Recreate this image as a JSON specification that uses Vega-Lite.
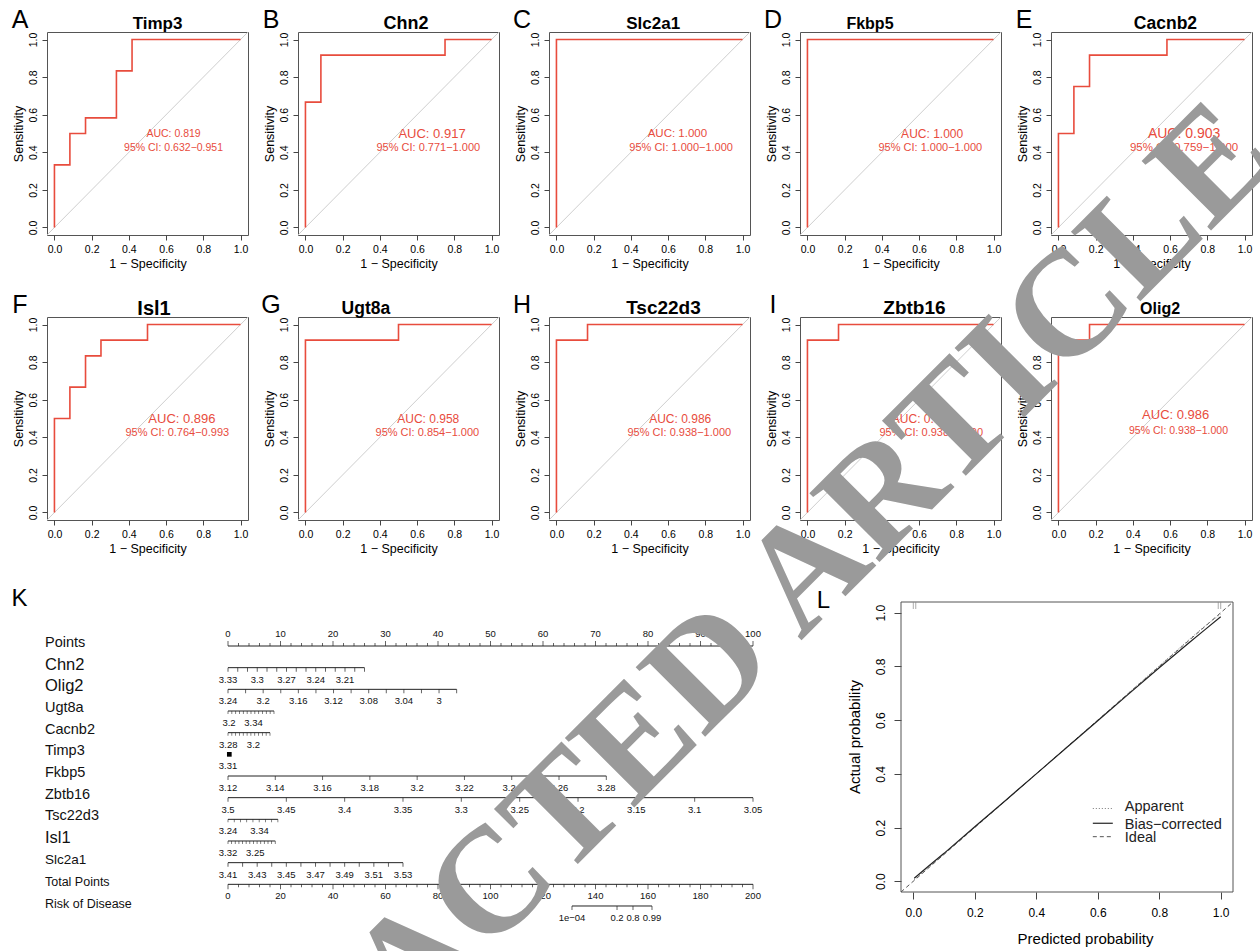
{
  "$schema": "https://vega.github.io/schema/vega-lite/v6.json",
  "background": "white",
  "padding": {"left": 11, "top": 7, "right": 0, "bottom": 0},
  "columns": 5,
  "align": "each",
  "bounds": "flush",
  "spacing": {"row": 82, "column": 50},
  "config": {
    "font": "Liberation Sans",
    "view": {"stroke": "#555", "strokeWidth": 1},
    "axis": {"grid": false, "domain": false, "labelFlush": false, "labelOverlap": false, "tickColor": "#444", "labelColor": "#000", "titleColor": "#000", "titleFontWeight": "normal"},
    "axisX": {"tickSize": 5, "labelFontSize": 10.5, "labelPadding": 4.5, "titleFontSize": 12.5, "titlePadding": 2},
    "axisY": {"tickSize": 5, "labelFontSize": 10.5, "labelPadding": 4, "labelAngle": 270, "labelAlign": "center", "labelBaseline": "bottom", "titleFontSize": 12.5, "titlePadding": 2.5}
  },
  "datasets": {
    "roc": [
      {"gene":"Timp3","ord":0,"fpr":0,"tpr":0},{"gene":"Timp3","ord":1,"fpr":0,"tpr":0.333},{"gene":"Timp3","ord":2,"fpr":0.083,"tpr":0.333},{"gene":"Timp3","ord":3,"fpr":0.083,"tpr":0.5},{"gene":"Timp3","ord":4,"fpr":0.167,"tpr":0.5},{"gene":"Timp3","ord":5,"fpr":0.167,"tpr":0.583},{"gene":"Timp3","ord":6,"fpr":0.333,"tpr":0.583},{"gene":"Timp3","ord":7,"fpr":0.333,"tpr":0.833},{"gene":"Timp3","ord":8,"fpr":0.417,"tpr":0.833},{"gene":"Timp3","ord":9,"fpr":0.417,"tpr":1},{"gene":"Timp3","ord":10,"fpr":1,"tpr":1},
      {"gene":"Chn2","ord":0,"fpr":0,"tpr":0},{"gene":"Chn2","ord":1,"fpr":0,"tpr":0.667},{"gene":"Chn2","ord":2,"fpr":0.083,"tpr":0.667},{"gene":"Chn2","ord":3,"fpr":0.083,"tpr":0.917},{"gene":"Chn2","ord":4,"fpr":0.75,"tpr":0.917},{"gene":"Chn2","ord":5,"fpr":0.75,"tpr":1},{"gene":"Chn2","ord":6,"fpr":1,"tpr":1},
      {"gene":"Slc2a1","ord":0,"fpr":0,"tpr":0},{"gene":"Slc2a1","ord":1,"fpr":0,"tpr":1},{"gene":"Slc2a1","ord":2,"fpr":1,"tpr":1},
      {"gene":"Fkbp5","ord":0,"fpr":0,"tpr":0},{"gene":"Fkbp5","ord":1,"fpr":0,"tpr":1},{"gene":"Fkbp5","ord":2,"fpr":1,"tpr":1},
      {"gene":"Cacnb2","ord":0,"fpr":0,"tpr":0},{"gene":"Cacnb2","ord":1,"fpr":0,"tpr":0.5},{"gene":"Cacnb2","ord":2,"fpr":0.083,"tpr":0.5},{"gene":"Cacnb2","ord":3,"fpr":0.083,"tpr":0.75},{"gene":"Cacnb2","ord":4,"fpr":0.167,"tpr":0.75},{"gene":"Cacnb2","ord":5,"fpr":0.167,"tpr":0.917},{"gene":"Cacnb2","ord":6,"fpr":0.583,"tpr":0.917},{"gene":"Cacnb2","ord":7,"fpr":0.583,"tpr":1},{"gene":"Cacnb2","ord":8,"fpr":1,"tpr":1},
      {"gene":"Isl1","ord":0,"fpr":0,"tpr":0},{"gene":"Isl1","ord":1,"fpr":0,"tpr":0.5},{"gene":"Isl1","ord":2,"fpr":0.083,"tpr":0.5},{"gene":"Isl1","ord":3,"fpr":0.083,"tpr":0.667},{"gene":"Isl1","ord":4,"fpr":0.167,"tpr":0.667},{"gene":"Isl1","ord":5,"fpr":0.167,"tpr":0.833},{"gene":"Isl1","ord":6,"fpr":0.25,"tpr":0.833},{"gene":"Isl1","ord":7,"fpr":0.25,"tpr":0.917},{"gene":"Isl1","ord":8,"fpr":0.5,"tpr":0.917},{"gene":"Isl1","ord":9,"fpr":0.5,"tpr":1},{"gene":"Isl1","ord":10,"fpr":1,"tpr":1},
      {"gene":"Ugt8a","ord":0,"fpr":0,"tpr":0},{"gene":"Ugt8a","ord":1,"fpr":0,"tpr":0.917},{"gene":"Ugt8a","ord":2,"fpr":0.5,"tpr":0.917},{"gene":"Ugt8a","ord":3,"fpr":0.5,"tpr":1},{"gene":"Ugt8a","ord":4,"fpr":1,"tpr":1},
      {"gene":"Tsc22d3","ord":0,"fpr":0,"tpr":0},{"gene":"Tsc22d3","ord":1,"fpr":0,"tpr":0.917},{"gene":"Tsc22d3","ord":2,"fpr":0.167,"tpr":0.917},{"gene":"Tsc22d3","ord":3,"fpr":0.167,"tpr":1},{"gene":"Tsc22d3","ord":4,"fpr":1,"tpr":1},
      {"gene":"Zbtb16","ord":0,"fpr":0,"tpr":0},{"gene":"Zbtb16","ord":1,"fpr":0,"tpr":0.917},{"gene":"Zbtb16","ord":2,"fpr":0.167,"tpr":0.917},{"gene":"Zbtb16","ord":3,"fpr":0.167,"tpr":1},{"gene":"Zbtb16","ord":4,"fpr":1,"tpr":1},
      {"gene":"Olig2","ord":0,"fpr":0,"tpr":0},{"gene":"Olig2","ord":1,"fpr":0,"tpr":0.917},{"gene":"Olig2","ord":2,"fpr":0.167,"tpr":0.917},{"gene":"Olig2","ord":3,"fpr":0.167,"tpr":1},{"gene":"Olig2","ord":4,"fpr":1,"tpr":1}
    ],
    "auc": [
      {"gene":"Timp3","letter":"A","auc":"AUC: 0.819","ci":"95% CI: 0.632−0.951"},
      {"gene":"Chn2","letter":"B","auc":"AUC: 0.917","ci":"95% CI: 0.771−1.000"},
      {"gene":"Slc2a1","letter":"C","auc":"AUC: 1.000","ci":"95% CI: 1.000−1.000"},
      {"gene":"Fkbp5","letter":"D","auc":"AUC: 1.000","ci":"95% CI: 1.000−1.000"},
      {"gene":"Cacnb2","letter":"E","auc":"AUC: 0.903","ci":"95% CI: 0.759−1.000"},
      {"gene":"Isl1","letter":"F","auc":"AUC: 0.896","ci":"95% CI: 0.764−0.993"},
      {"gene":"Ugt8a","letter":"G","auc":"AUC: 0.958","ci":"95% CI: 0.854−1.000"},
      {"gene":"Tsc22d3","letter":"H","auc":"AUC: 0.986","ci":"95% CI: 0.938−1.000"},
      {"gene":"Zbtb16","letter":"I","auc":"AUC: 0.986","ci":"95% CI: 0.938−1.000"},
      {"gene":"Olig2","letter":"J","auc":"AUC: 0.986","ci":"95% CI: 0.938−1.000"}
    ],
    "nomo_lines": [
      {"row":1,"x1":0,"x2":100},{"row":2,"x1":0,"x2":26.0},{"row":3,"x1":0,"x2":43.55},{"row":4,"x1":0,"x2":8.76},{"row":5,"x1":0,"x2":8.0},{"row":7,"x1":0,"x2":72.06},{"row":8,"x1":0,"x2":100},{"row":9,"x1":0,"x2":9.5},{"row":10,"x1":0,"x2":9.0},{"row":11,"x1":0,"x2":33.33},{"row":12,"x1":0,"x2":100},{"row":13,"x1":65.52,"x2":80.76}
    ],
    "scale_ticks": [
      {"pts":0,"m":1},{"pts":2,"m":0},{"pts":4,"m":0},{"pts":6,"m":0},{"pts":8,"m":0},{"pts":10,"m":1},{"pts":12,"m":0},{"pts":14,"m":0},{"pts":16,"m":0},{"pts":18,"m":0},{"pts":20,"m":1},{"pts":22,"m":0},{"pts":24,"m":0},{"pts":26,"m":0},{"pts":28,"m":0},{"pts":30,"m":1},{"pts":32,"m":0},{"pts":34,"m":0},{"pts":36,"m":0},{"pts":38,"m":0},{"pts":40,"m":1},{"pts":42,"m":0},{"pts":44,"m":0},{"pts":46,"m":0},{"pts":48,"m":0},{"pts":50,"m":1},{"pts":52,"m":0},{"pts":54,"m":0},{"pts":56,"m":0},{"pts":58,"m":0},{"pts":60,"m":1},{"pts":62,"m":0},{"pts":64,"m":0},{"pts":66,"m":0},{"pts":68,"m":0},{"pts":70,"m":1},{"pts":72,"m":0},{"pts":74,"m":0},{"pts":76,"m":0},{"pts":78,"m":0},{"pts":80,"m":1},{"pts":82,"m":0},{"pts":84,"m":0},{"pts":86,"m":0},{"pts":88,"m":0},{"pts":90,"m":1},{"pts":92,"m":0},{"pts":94,"m":0},{"pts":96,"m":0},{"pts":98,"m":0},{"pts":100,"m":1}
    ],
    "scale_labels": [
      {"pts":0,"p":"0","t":"0"},{"pts":10,"p":"10","t":"20"},{"pts":20,"p":"20","t":"40"},{"pts":30,"p":"30","t":"60"},{"pts":40,"p":"40","t":"80"},{"pts":50,"p":"50","t":"100"},{"pts":60,"p":"60","t":"120"},{"pts":70,"p":"70","t":"140"},{"pts":80,"p":"80","t":"160"},{"pts":90,"p":"90","t":"180"},{"pts":100,"p":"100","t":"200"}
    ],
    "var_ticks": [
      {"row":2,"pts":0,"d":0},{"row":2,"pts":1.857,"d":0},{"row":2,"pts":3.714,"d":0},{"row":2,"pts":5.571,"d":0},{"row":2,"pts":7.429,"d":0},{"row":2,"pts":9.286,"d":0},{"row":2,"pts":11.143,"d":0},{"row":2,"pts":13.0,"d":0},{"row":2,"pts":14.857,"d":0},{"row":2,"pts":16.714,"d":0},{"row":2,"pts":18.571,"d":0},{"row":2,"pts":20.429,"d":0},{"row":2,"pts":22.286,"d":0},{"row":2,"pts":24.143,"d":0},{"row":2,"pts":26.0,"d":0},
      {"row":3,"pts":0,"d":0},{"row":3,"pts":3.35,"d":0},{"row":3,"pts":6.7,"d":0},{"row":3,"pts":10.05,"d":0},{"row":3,"pts":13.4,"d":0},{"row":3,"pts":16.75,"d":0},{"row":3,"pts":20.1,"d":0},{"row":3,"pts":23.45,"d":0},{"row":3,"pts":26.8,"d":0},{"row":3,"pts":30.15,"d":0},{"row":3,"pts":33.5,"d":0},{"row":3,"pts":36.85,"d":0},{"row":3,"pts":40.2,"d":0},{"row":3,"pts":43.55,"d":0},
      {"row":4,"pts":0,"d":1},{"row":4,"pts":0.73,"d":1},{"row":4,"pts":1.46,"d":1},{"row":4,"pts":2.19,"d":1},{"row":4,"pts":2.92,"d":1},{"row":4,"pts":3.65,"d":1},{"row":4,"pts":4.38,"d":1},{"row":4,"pts":5.11,"d":1},{"row":4,"pts":5.84,"d":1},{"row":4,"pts":6.57,"d":1},{"row":4,"pts":7.3,"d":1},{"row":4,"pts":8.03,"d":1},{"row":4,"pts":8.76,"d":1},
      {"row":5,"pts":0,"d":1},{"row":5,"pts":0.73,"d":1},{"row":5,"pts":1.45,"d":1},{"row":5,"pts":2.18,"d":1},{"row":5,"pts":2.91,"d":1},{"row":5,"pts":3.64,"d":1},{"row":5,"pts":4.36,"d":1},{"row":5,"pts":5.09,"d":1},{"row":5,"pts":5.82,"d":1},{"row":5,"pts":6.55,"d":1},{"row":5,"pts":7.27,"d":1},{"row":5,"pts":8.0,"d":1},
      {"row":7,"pts":0,"d":0},{"row":7,"pts":9.007,"d":0},{"row":7,"pts":18.01,"d":0},{"row":7,"pts":27.02,"d":0},{"row":7,"pts":36.03,"d":0},{"row":7,"pts":45.04,"d":0},{"row":7,"pts":54.04,"d":0},{"row":7,"pts":63.05,"d":0},{"row":7,"pts":72.06,"d":0},
      {"row":8,"pts":0,"d":0},{"row":8,"pts":11.11,"d":0},{"row":8,"pts":22.22,"d":0},{"row":8,"pts":33.33,"d":0},{"row":8,"pts":44.44,"d":0},{"row":8,"pts":55.56,"d":0},{"row":8,"pts":66.67,"d":0},{"row":8,"pts":77.78,"d":0},{"row":8,"pts":88.89,"d":0},{"row":8,"pts":100,"d":0},
      {"row":9,"pts":0,"d":1},{"row":9,"pts":1.19,"d":1},{"row":9,"pts":2.38,"d":1},{"row":9,"pts":3.56,"d":1},{"row":9,"pts":4.75,"d":1},{"row":9,"pts":5.94,"d":1},{"row":9,"pts":7.13,"d":1},{"row":9,"pts":8.31,"d":1},{"row":9,"pts":9.5,"d":1},
      {"row":10,"pts":0,"d":1},{"row":10,"pts":0.69,"d":1},{"row":10,"pts":1.38,"d":1},{"row":10,"pts":2.08,"d":1},{"row":10,"pts":2.77,"d":1},{"row":10,"pts":3.46,"d":1},{"row":10,"pts":4.15,"d":1},{"row":10,"pts":4.85,"d":1},{"row":10,"pts":5.54,"d":1},{"row":10,"pts":6.23,"d":1},{"row":10,"pts":6.92,"d":1},{"row":10,"pts":7.62,"d":1},{"row":10,"pts":8.31,"d":1},{"row":10,"pts":9.0,"d":1},
      {"row":11,"pts":0,"d":0},{"row":11,"pts":2.78,"d":0},{"row":11,"pts":5.56,"d":0},{"row":11,"pts":8.33,"d":0},{"row":11,"pts":11.11,"d":0},{"row":11,"pts":13.89,"d":0},{"row":11,"pts":16.67,"d":0},{"row":11,"pts":19.44,"d":0},{"row":11,"pts":22.22,"d":0},{"row":11,"pts":25.0,"d":0},{"row":11,"pts":27.78,"d":0},{"row":11,"pts":30.56,"d":0},{"row":11,"pts":33.33,"d":0},
      {"row":13,"pts":65.52,"d":0},{"row":13,"pts":74.1,"d":0},{"row":13,"pts":77.14,"d":0},{"row":13,"pts":80.76,"d":0}
    ],
    "var_labels": [
      {"row":2,"pts":0,"label":"3.33"},{"row":2,"pts":5.571,"label":"3.3"},{"row":2,"pts":11.143,"label":"3.27"},{"row":2,"pts":16.714,"label":"3.24"},{"row":2,"pts":22.286,"label":"3.21"},
      {"row":3,"pts":0,"label":"3.24"},{"row":3,"pts":6.7,"label":"3.2"},{"row":3,"pts":13.4,"label":"3.16"},{"row":3,"pts":20.1,"label":"3.12"},{"row":3,"pts":26.8,"label":"3.08"},{"row":3,"pts":33.5,"label":"3.04"},{"row":3,"pts":40.2,"label":"3"},
      {"row":4,"pts":0.2,"label":"3.2"},{"row":4,"pts":4.86,"label":"3.34"},
      {"row":5,"pts":0.06,"label":"3.28"},{"row":5,"pts":4.85,"label":"3.2"},
      {"row":6,"pts":0,"label":"3.31"},
      {"row":7,"pts":0,"label":"3.12"},{"row":7,"pts":9.007,"label":"3.14"},{"row":7,"pts":18.01,"label":"3.16"},{"row":7,"pts":27.02,"label":"3.18"},{"row":7,"pts":36.03,"label":"3.2"},{"row":7,"pts":45.04,"label":"3.22"},{"row":7,"pts":54.04,"label":"3.24"},{"row":7,"pts":63.05,"label":"3.26"},{"row":7,"pts":72.06,"label":"3.28"},
      {"row":8,"pts":0,"label":"3.5"},{"row":8,"pts":11.11,"label":"3.45"},{"row":8,"pts":22.22,"label":"3.4"},{"row":8,"pts":33.33,"label":"3.35"},{"row":8,"pts":44.44,"label":"3.3"},{"row":8,"pts":55.56,"label":"3.25"},{"row":8,"pts":66.67,"label":"3.2"},{"row":8,"pts":77.78,"label":"3.15"},{"row":8,"pts":88.89,"label":"3.1"},{"row":8,"pts":100,"label":"3.05"},
      {"row":9,"pts":0,"label":"3.24"},{"row":9,"pts":6.0,"label":"3.34"},
      {"row":10,"pts":0,"label":"3.32"},{"row":10,"pts":5.2,"label":"3.25"},
      {"row":11,"pts":0,"label":"3.41"},{"row":11,"pts":5.56,"label":"3.43"},{"row":11,"pts":11.11,"label":"3.45"},{"row":11,"pts":16.67,"label":"3.47"},{"row":11,"pts":22.22,"label":"3.49"},{"row":11,"pts":27.78,"label":"3.51"},{"row":11,"pts":33.33,"label":"3.53"},
      {"row":13,"pts":65.52,"label":"1e−04"},{"row":13,"pts":74.1,"label":"0.2"},{"row":13,"pts":77.14,"label":"0.8"},{"row":13,"pts":80.76,"label":"0.99"}
    ],
    "nomo_names": [
      {"row":1,"name":"Points"},{"row":2,"name":"Chn2"},{"row":3,"name":"Olig2"},{"row":4,"name":"Ugt8a"},{"row":5,"name":"Cacnb2"},{"row":6,"name":"Timp3"},{"row":7,"name":"Fkbp5"},{"row":8,"name":"Zbtb16"},{"row":9,"name":"Tsc22d3"},{"row":10,"name":"Isl1"},{"row":11,"name":"Slc2a1"},{"row":12,"name":"Total Points"},{"row":13,"name":"Risk of Disease"}
    ],
    "nomo_pt": [{"row":6,"pts":0.25}],
    "calib": [
      {"series":"Apparent","p":0.003,"a":0.006},{"series":"Apparent","p":0.05,"a":0.052},{"series":"Apparent","p":0.1,"a":0.101},{"series":"Apparent","p":0.2,"a":0.201},{"series":"Apparent","p":0.3,"a":0.301},{"series":"Apparent","p":0.4,"a":0.4},{"series":"Apparent","p":0.5,"a":0.5},{"series":"Apparent","p":0.6,"a":0.6},{"series":"Apparent","p":0.7,"a":0.701},{"series":"Apparent","p":0.8,"a":0.802},{"series":"Apparent","p":0.9,"a":0.903},{"series":"Apparent","p":0.95,"a":0.952},{"series":"Apparent","p":1.0,"a":0.995},
      {"series":"Bias-corrected","p":0.003,"a":0.011},{"series":"Bias-corrected","p":0.05,"a":0.057},{"series":"Bias-corrected","p":0.1,"a":0.104},{"series":"Bias-corrected","p":0.2,"a":0.203},{"series":"Bias-corrected","p":0.3,"a":0.301},{"series":"Bias-corrected","p":0.4,"a":0.4},{"series":"Bias-corrected","p":0.5,"a":0.499},{"series":"Bias-corrected","p":0.6,"a":0.598},{"series":"Bias-corrected","p":0.7,"a":0.697},{"series":"Bias-corrected","p":0.8,"a":0.795},{"series":"Bias-corrected","p":0.9,"a":0.891},{"series":"Bias-corrected","p":0.95,"a":0.938},{"series":"Bias-corrected","p":1.0,"a":0.985}
    ],
    "rug": [{"p":0.0},{"p":0.008},{"p":0.992},{"p":1.0}]
  },
  "concat": [
    {"width":201,"height":203,"layer":[
      {"data":{"name":"auc"},"transform":[{"filter":"datum.gene==='Timp3'"}],"mark":{"type":"rule","color":"#c8c8c8","strokeWidth":0.9},"encoding":{"x":{"datum":-0.04,"type":"quantitative","scale":{"domain":[-0.04,1.04],"nice":false,"zero":false},"axis":{"title":"1 − Specificity","values":[0,0.2,0.4,0.6,0.8,1],"format":".1f"}},"y":{"datum":-0.04,"type":"quantitative","scale":{"domain":[-0.04,1.04],"nice":false,"zero":false},"axis":{"title":"Sensitivity","values":[0,0.2,0.4,0.6,0.8,1],"format":".1f"}},"x2":{"datum":1.04},"y2":{"datum":1.04}}},
      {"data":{"name":"roc"},"transform":[{"filter":"datum.gene==='Timp3'"}],"mark":{"type":"line","color":"#E84C3D","strokeWidth":1.6},"encoding":{"x":{"field":"fpr","type":"quantitative"},"y":{"field":"tpr","type":"quantitative"},"order":{"field":"ord","type":"quantitative"}}},
      {"data":{"name":"auc"},"transform":[{"filter":"datum.gene==='Timp3'"}],"mark":{"type":"text","color":"#E84C3D","fontSize":10.5,"baseline":"middle"},"encoding":{"x":{"datum":0.64,"type":"quantitative"},"y":{"datum":0.5,"type":"quantitative"},"text":{"field":"auc"}}},
      {"data":{"name":"auc"},"transform":[{"filter":"datum.gene==='Timp3'"}],"mark":{"type":"text","color":"#E84C3D","fontSize":10.5,"baseline":"middle"},"encoding":{"x":{"datum":0.64,"type":"quantitative"},"y":{"datum":0.425,"type":"quantitative"},"text":{"field":"ci"}}},
      {"data":{"name":"auc"},"transform":[{"filter":"datum.gene==='Timp3'"}],"mark":{"type":"text","color":"#000","fontSize":17,"fontWeight":"bold","baseline":"alphabetic","dy":-3.5},"encoding":{"x":{"datum":0.554,"type":"quantitative"},"y":{"datum":1.04,"type":"quantitative"},"text":{"field":"gene"}}},
      {"data":{"name":"auc"},"transform":[{"filter":"datum.gene==='Timp3'"}],"mark":{"type":"text","color":"#000","fontSize":25,"baseline":"middle"},"encoding":{"x":{"datum":-0.185,"type":"quantitative"},"y":{"datum":1.104,"type":"quantitative"},"text":{"field":"letter"}}}
    ]},
    {"width":201,"height":203,"layer":[
      {"data":{"name":"auc"},"transform":[{"filter":"datum.gene==='Chn2'"}],"mark":{"type":"rule","color":"#c8c8c8","strokeWidth":0.9},"encoding":{"x":{"datum":-0.04,"type":"quantitative","scale":{"domain":[-0.04,1.04],"nice":false,"zero":false},"axis":{"title":"1 − Specificity","values":[0,0.2,0.4,0.6,0.8,1],"format":".1f"}},"y":{"datum":-0.04,"type":"quantitative","scale":{"domain":[-0.04,1.04],"nice":false,"zero":false},"axis":{"title":"Sensitivity","values":[0,0.2,0.4,0.6,0.8,1],"format":".1f"}},"x2":{"datum":1.04},"y2":{"datum":1.04}}},
      {"data":{"name":"roc"},"transform":[{"filter":"datum.gene==='Chn2'"}],"mark":{"type":"line","color":"#E84C3D","strokeWidth":1.6},"encoding":{"x":{"field":"fpr","type":"quantitative"},"y":{"field":"tpr","type":"quantitative"},"order":{"field":"ord","type":"quantitative"}}},
      {"data":{"name":"auc"},"transform":[{"filter":"datum.gene==='Chn2'"}],"mark":{"type":"text","color":"#E84C3D","fontSize":13,"baseline":"middle"},"encoding":{"x":{"datum":0.68,"type":"quantitative"},"y":{"datum":0.5,"type":"quantitative"},"text":{"field":"auc"}}},
      {"data":{"name":"auc"},"transform":[{"filter":"datum.gene==='Chn2'"}],"mark":{"type":"text","color":"#E84C3D","fontSize":11,"baseline":"middle"},"encoding":{"x":{"datum":0.66,"type":"quantitative"},"y":{"datum":0.425,"type":"quantitative"},"text":{"field":"ci"}}},
      {"data":{"name":"auc"},"transform":[{"filter":"datum.gene==='Chn2'"}],"mark":{"type":"text","color":"#000","fontSize":18,"fontWeight":"bold","baseline":"alphabetic","dy":-3.5},"encoding":{"x":{"datum":0.54,"type":"quantitative"},"y":{"datum":1.04,"type":"quantitative"},"text":{"field":"gene"}}},
      {"data":{"name":"auc"},"transform":[{"filter":"datum.gene==='Chn2'"}],"mark":{"type":"text","color":"#000","fontSize":25,"baseline":"middle"},"encoding":{"x":{"datum":-0.185,"type":"quantitative"},"y":{"datum":1.104,"type":"quantitative"},"text":{"field":"letter"}}}
    ]},
    {"width":201,"height":203,"layer":[
      {"data":{"name":"auc"},"transform":[{"filter":"datum.gene==='Slc2a1'"}],"mark":{"type":"rule","color":"#c8c8c8","strokeWidth":0.9},"encoding":{"x":{"datum":-0.04,"type":"quantitative","scale":{"domain":[-0.04,1.04],"nice":false,"zero":false},"axis":{"title":"1 − Specificity","values":[0,0.2,0.4,0.6,0.8,1],"format":".1f"}},"y":{"datum":-0.04,"type":"quantitative","scale":{"domain":[-0.04,1.04],"nice":false,"zero":false},"axis":{"title":"Sensitivity","values":[0,0.2,0.4,0.6,0.8,1],"format":".1f"}},"x2":{"datum":1.04},"y2":{"datum":1.04}}},
      {"data":{"name":"roc"},"transform":[{"filter":"datum.gene==='Slc2a1'"}],"mark":{"type":"line","color":"#E84C3D","strokeWidth":1.6},"encoding":{"x":{"field":"fpr","type":"quantitative"},"y":{"field":"tpr","type":"quantitative"},"order":{"field":"ord","type":"quantitative"}}},
      {"data":{"name":"auc"},"transform":[{"filter":"datum.gene==='Slc2a1'"}],"mark":{"type":"text","color":"#E84C3D","fontSize":11.5,"baseline":"middle"},"encoding":{"x":{"datum":0.65,"type":"quantitative"},"y":{"datum":0.5,"type":"quantitative"},"text":{"field":"auc"}}},
      {"data":{"name":"auc"},"transform":[{"filter":"datum.gene==='Slc2a1'"}],"mark":{"type":"text","color":"#E84C3D","fontSize":11,"baseline":"middle"},"encoding":{"x":{"datum":0.67,"type":"quantitative"},"y":{"datum":0.425,"type":"quantitative"},"text":{"field":"ci"}}},
      {"data":{"name":"auc"},"transform":[{"filter":"datum.gene==='Slc2a1'"}],"mark":{"type":"text","color":"#000","fontSize":17,"fontWeight":"bold","baseline":"alphabetic","dy":-3.5},"encoding":{"x":{"datum":0.52,"type":"quantitative"},"y":{"datum":1.04,"type":"quantitative"},"text":{"field":"gene"}}},
      {"data":{"name":"auc"},"transform":[{"filter":"datum.gene==='Slc2a1'"}],"mark":{"type":"text","color":"#000","fontSize":25,"baseline":"middle"},"encoding":{"x":{"datum":-0.185,"type":"quantitative"},"y":{"datum":1.104,"type":"quantitative"},"text":{"field":"letter"}}}
    ]},
    {"width":201,"height":203,"layer":[
      {"data":{"name":"auc"},"transform":[{"filter":"datum.gene==='Fkbp5'"}],"mark":{"type":"rule","color":"#c8c8c8","strokeWidth":0.9},"encoding":{"x":{"datum":-0.04,"type":"quantitative","scale":{"domain":[-0.04,1.04],"nice":false,"zero":false},"axis":{"title":"1 − Specificity","values":[0,0.2,0.4,0.6,0.8,1],"format":".1f"}},"y":{"datum":-0.04,"type":"quantitative","scale":{"domain":[-0.04,1.04],"nice":false,"zero":false},"axis":{"title":"Sensitivity","values":[0,0.2,0.4,0.6,0.8,1],"format":".1f"}},"x2":{"datum":1.04},"y2":{"datum":1.04}}},
      {"data":{"name":"roc"},"transform":[{"filter":"datum.gene==='Fkbp5'"}],"mark":{"type":"line","color":"#E84C3D","strokeWidth":1.6},"encoding":{"x":{"field":"fpr","type":"quantitative"},"y":{"field":"tpr","type":"quantitative"},"order":{"field":"ord","type":"quantitative"}}},
      {"data":{"name":"auc"},"transform":[{"filter":"datum.gene==='Fkbp5'"}],"mark":{"type":"text","color":"#E84C3D","fontSize":12,"baseline":"middle"},"encoding":{"x":{"datum":0.67,"type":"quantitative"},"y":{"datum":0.5,"type":"quantitative"},"text":{"field":"auc"}}},
      {"data":{"name":"auc"},"transform":[{"filter":"datum.gene==='Fkbp5'"}],"mark":{"type":"text","color":"#E84C3D","fontSize":11,"baseline":"middle"},"encoding":{"x":{"datum":0.66,"type":"quantitative"},"y":{"datum":0.425,"type":"quantitative"},"text":{"field":"ci"}}},
      {"data":{"name":"auc"},"transform":[{"filter":"datum.gene==='Fkbp5'"}],"mark":{"type":"text","color":"#000","fontSize":16,"fontWeight":"bold","baseline":"alphabetic","dy":-3.5},"encoding":{"x":{"datum":0.336,"type":"quantitative"},"y":{"datum":1.04,"type":"quantitative"},"text":{"field":"gene"}}},
      {"data":{"name":"auc"},"transform":[{"filter":"datum.gene==='Fkbp5'"}],"mark":{"type":"text","color":"#000","fontSize":25,"baseline":"middle"},"encoding":{"x":{"datum":-0.185,"type":"quantitative"},"y":{"datum":1.104,"type":"quantitative"},"text":{"field":"letter"}}}
    ]},
    {"width":201,"height":203,"layer":[
      {"data":{"name":"auc"},"transform":[{"filter":"datum.gene==='Cacnb2'"}],"mark":{"type":"rule","color":"#c8c8c8","strokeWidth":0.9},"encoding":{"x":{"datum":-0.04,"type":"quantitative","scale":{"domain":[-0.04,1.04],"nice":false,"zero":false},"axis":{"title":"1 − Specificity","values":[0,0.2,0.4,0.6,0.8,1],"format":".1f"}},"y":{"datum":-0.04,"type":"quantitative","scale":{"domain":[-0.04,1.04],"nice":false,"zero":false},"axis":{"title":"Sensitivity","values":[0,0.2,0.4,0.6,0.8,1],"format":".1f"}},"x2":{"datum":1.04},"y2":{"datum":1.04}}},
      {"data":{"name":"roc"},"transform":[{"filter":"datum.gene==='Cacnb2'"}],"mark":{"type":"line","color":"#E84C3D","strokeWidth":1.6},"encoding":{"x":{"field":"fpr","type":"quantitative"},"y":{"field":"tpr","type":"quantitative"},"order":{"field":"ord","type":"quantitative"}}},
      {"data":{"name":"auc"},"transform":[{"filter":"datum.gene==='Cacnb2'"}],"mark":{"type":"text","color":"#E84C3D","fontSize":14,"baseline":"middle"},"encoding":{"x":{"datum":0.675,"type":"quantitative"},"y":{"datum":0.5,"type":"quantitative"},"text":{"field":"auc"}}},
      {"data":{"name":"auc"},"transform":[{"filter":"datum.gene==='Cacnb2'"}],"mark":{"type":"text","color":"#E84C3D","fontSize":11.5,"baseline":"middle"},"encoding":{"x":{"datum":0.675,"type":"quantitative"},"y":{"datum":0.425,"type":"quantitative"},"text":{"field":"ci"}}},
      {"data":{"name":"auc"},"transform":[{"filter":"datum.gene==='Cacnb2'"}],"mark":{"type":"text","color":"#000","fontSize":17.5,"fontWeight":"bold","baseline":"alphabetic","dy":-3.5},"encoding":{"x":{"datum":0.575,"type":"quantitative"},"y":{"datum":1.04,"type":"quantitative"},"text":{"field":"gene"}}},
      {"data":{"name":"auc"},"transform":[{"filter":"datum.gene==='Cacnb2'"}],"mark":{"type":"text","color":"#000","fontSize":25,"baseline":"middle"},"encoding":{"x":{"datum":-0.185,"type":"quantitative"},"y":{"datum":1.104,"type":"quantitative"},"text":{"field":"letter"}}}
    ]},
    {"width":201,"height":203,"layer":[
      {"data":{"name":"auc"},"transform":[{"filter":"datum.gene==='Isl1'"}],"mark":{"type":"rule","color":"#c8c8c8","strokeWidth":0.9},"encoding":{"x":{"datum":-0.04,"type":"quantitative","scale":{"domain":[-0.04,1.04],"nice":false,"zero":false},"axis":{"title":"1 − Specificity","values":[0,0.2,0.4,0.6,0.8,1],"format":".1f"}},"y":{"datum":-0.04,"type":"quantitative","scale":{"domain":[-0.04,1.04],"nice":false,"zero":false},"axis":{"title":"Sensitivity","values":[0,0.2,0.4,0.6,0.8,1],"format":".1f"}},"x2":{"datum":1.04},"y2":{"datum":1.04}}},
      {"data":{"name":"roc"},"transform":[{"filter":"datum.gene==='Isl1'"}],"mark":{"type":"line","color":"#E84C3D","strokeWidth":1.6},"encoding":{"x":{"field":"fpr","type":"quantitative"},"y":{"field":"tpr","type":"quantitative"},"order":{"field":"ord","type":"quantitative"}}},
      {"data":{"name":"auc"},"transform":[{"filter":"datum.gene==='Isl1'"}],"mark":{"type":"text","color":"#E84C3D","fontSize":13,"baseline":"middle"},"encoding":{"x":{"datum":0.685,"type":"quantitative"},"y":{"datum":0.5,"type":"quantitative"},"text":{"field":"auc"}}},
      {"data":{"name":"auc"},"transform":[{"filter":"datum.gene==='Isl1'"}],"mark":{"type":"text","color":"#E84C3D","fontSize":11,"baseline":"middle"},"encoding":{"x":{"datum":0.66,"type":"quantitative"},"y":{"datum":0.425,"type":"quantitative"},"text":{"field":"ci"}}},
      {"data":{"name":"auc"},"transform":[{"filter":"datum.gene==='Isl1'"}],"mark":{"type":"text","color":"#000","fontSize":20,"fontWeight":"bold","baseline":"alphabetic","dy":-2},"encoding":{"x":{"datum":0.535,"type":"quantitative"},"y":{"datum":1.04,"type":"quantitative"},"text":{"field":"gene"}}},
      {"data":{"name":"auc"},"transform":[{"filter":"datum.gene==='Isl1'"}],"mark":{"type":"text","color":"#000","fontSize":25,"baseline":"middle"},"encoding":{"x":{"datum":-0.185,"type":"quantitative"},"y":{"datum":1.104,"type":"quantitative"},"text":{"field":"letter"}}}
    ]},
    {"width":201,"height":203,"layer":[
      {"data":{"name":"auc"},"transform":[{"filter":"datum.gene==='Ugt8a'"}],"mark":{"type":"rule","color":"#c8c8c8","strokeWidth":0.9},"encoding":{"x":{"datum":-0.04,"type":"quantitative","scale":{"domain":[-0.04,1.04],"nice":false,"zero":false},"axis":{"title":"1 − Specificity","values":[0,0.2,0.4,0.6,0.8,1],"format":".1f"}},"y":{"datum":-0.04,"type":"quantitative","scale":{"domain":[-0.04,1.04],"nice":false,"zero":false},"axis":{"title":"Sensitivity","values":[0,0.2,0.4,0.6,0.8,1],"format":".1f"}},"x2":{"datum":1.04},"y2":{"datum":1.04}}},
      {"data":{"name":"roc"},"transform":[{"filter":"datum.gene==='Ugt8a'"}],"mark":{"type":"line","color":"#E84C3D","strokeWidth":1.6},"encoding":{"x":{"field":"fpr","type":"quantitative"},"y":{"field":"tpr","type":"quantitative"},"order":{"field":"ord","type":"quantitative"}}},
      {"data":{"name":"auc"},"transform":[{"filter":"datum.gene==='Ugt8a'"}],"mark":{"type":"text","color":"#E84C3D","fontSize":12,"baseline":"middle"},"encoding":{"x":{"datum":0.66,"type":"quantitative"},"y":{"datum":0.5,"type":"quantitative"},"text":{"field":"auc"}}},
      {"data":{"name":"auc"},"transform":[{"filter":"datum.gene==='Ugt8a'"}],"mark":{"type":"text","color":"#E84C3D","fontSize":11,"baseline":"middle"},"encoding":{"x":{"datum":0.655,"type":"quantitative"},"y":{"datum":0.425,"type":"quantitative"},"text":{"field":"ci"}}},
      {"data":{"name":"auc"},"transform":[{"filter":"datum.gene==='Ugt8a'"}],"mark":{"type":"text","color":"#000","fontSize":17.5,"fontWeight":"bold","baseline":"alphabetic","dy":-3},"encoding":{"x":{"datum":0.325,"type":"quantitative"},"y":{"datum":1.04,"type":"quantitative"},"text":{"field":"gene"}}},
      {"data":{"name":"auc"},"transform":[{"filter":"datum.gene==='Ugt8a'"}],"mark":{"type":"text","color":"#000","fontSize":25,"baseline":"middle"},"encoding":{"x":{"datum":-0.185,"type":"quantitative"},"y":{"datum":1.104,"type":"quantitative"},"text":{"field":"letter"}}}
    ]},
    {"width":201,"height":203,"layer":[
      {"data":{"name":"auc"},"transform":[{"filter":"datum.gene==='Tsc22d3'"}],"mark":{"type":"rule","color":"#c8c8c8","strokeWidth":0.9},"encoding":{"x":{"datum":-0.04,"type":"quantitative","scale":{"domain":[-0.04,1.04],"nice":false,"zero":false},"axis":{"title":"1 − Specificity","values":[0,0.2,0.4,0.6,0.8,1],"format":".1f"}},"y":{"datum":-0.04,"type":"quantitative","scale":{"domain":[-0.04,1.04],"nice":false,"zero":false},"axis":{"title":"Sensitivity","values":[0,0.2,0.4,0.6,0.8,1],"format":".1f"}},"x2":{"datum":1.04},"y2":{"datum":1.04}}},
      {"data":{"name":"roc"},"transform":[{"filter":"datum.gene==='Tsc22d3'"}],"mark":{"type":"line","color":"#E84C3D","strokeWidth":1.6},"encoding":{"x":{"field":"fpr","type":"quantitative"},"y":{"field":"tpr","type":"quantitative"},"order":{"field":"ord","type":"quantitative"}}},
      {"data":{"name":"auc"},"transform":[{"filter":"datum.gene==='Tsc22d3'"}],"mark":{"type":"text","color":"#E84C3D","fontSize":12,"baseline":"middle"},"encoding":{"x":{"datum":0.665,"type":"quantitative"},"y":{"datum":0.5,"type":"quantitative"},"text":{"field":"auc"}}},
      {"data":{"name":"auc"},"transform":[{"filter":"datum.gene==='Tsc22d3'"}],"mark":{"type":"text","color":"#E84C3D","fontSize":11,"baseline":"middle"},"encoding":{"x":{"datum":0.66,"type":"quantitative"},"y":{"datum":0.425,"type":"quantitative"},"text":{"field":"ci"}}},
      {"data":{"name":"auc"},"transform":[{"filter":"datum.gene==='Tsc22d3'"}],"mark":{"type":"text","color":"#000","fontSize":19,"fontWeight":"bold","baseline":"alphabetic","dy":-3.5},"encoding":{"x":{"datum":0.575,"type":"quantitative"},"y":{"datum":1.04,"type":"quantitative"},"text":{"field":"gene"}}},
      {"data":{"name":"auc"},"transform":[{"filter":"datum.gene==='Tsc22d3'"}],"mark":{"type":"text","color":"#000","fontSize":25,"baseline":"middle"},"encoding":{"x":{"datum":-0.185,"type":"quantitative"},"y":{"datum":1.104,"type":"quantitative"},"text":{"field":"letter"}}}
    ]},
    {"width":201,"height":203,"layer":[
      {"data":{"name":"auc"},"transform":[{"filter":"datum.gene==='Zbtb16'"}],"mark":{"type":"rule","color":"#c8c8c8","strokeWidth":0.9},"encoding":{"x":{"datum":-0.04,"type":"quantitative","scale":{"domain":[-0.04,1.04],"nice":false,"zero":false},"axis":{"title":"1 − Specificity","values":[0,0.2,0.4,0.6,0.8,1],"format":".1f"}},"y":{"datum":-0.04,"type":"quantitative","scale":{"domain":[-0.04,1.04],"nice":false,"zero":false},"axis":{"title":"Sensitivity","values":[0,0.2,0.4,0.6,0.8,1],"format":".1f"}},"x2":{"datum":1.04},"y2":{"datum":1.04}}},
      {"data":{"name":"roc"},"transform":[{"filter":"datum.gene==='Zbtb16'"}],"mark":{"type":"line","color":"#E84C3D","strokeWidth":1.6},"encoding":{"x":{"field":"fpr","type":"quantitative"},"y":{"field":"tpr","type":"quantitative"},"order":{"field":"ord","type":"quantitative"}}},
      {"data":{"name":"auc"},"transform":[{"filter":"datum.gene==='Zbtb16'"}],"mark":{"type":"text","color":"#E84C3D","fontSize":12,"baseline":"middle"},"encoding":{"x":{"datum":0.62,"type":"quantitative"},"y":{"datum":0.5,"type":"quantitative"},"text":{"field":"auc"}}},
      {"data":{"name":"auc"},"transform":[{"filter":"datum.gene==='Zbtb16'"}],"mark":{"type":"text","color":"#E84C3D","fontSize":11,"baseline":"middle"},"encoding":{"x":{"datum":0.665,"type":"quantitative"},"y":{"datum":0.425,"type":"quantitative"},"text":{"field":"ci"}}},
      {"data":{"name":"auc"},"transform":[{"filter":"datum.gene==='Zbtb16'"}],"mark":{"type":"text","color":"#000","fontSize":19,"fontWeight":"bold","baseline":"alphabetic","dy":-3.5},"encoding":{"x":{"datum":0.575,"type":"quantitative"},"y":{"datum":1.04,"type":"quantitative"},"text":{"field":"gene"}}},
      {"data":{"name":"auc"},"transform":[{"filter":"datum.gene==='Zbtb16'"}],"mark":{"type":"text","color":"#000","fontSize":25,"baseline":"middle"},"encoding":{"x":{"datum":-0.185,"type":"quantitative"},"y":{"datum":1.104,"type":"quantitative"},"text":{"field":"letter"}}}
    ]},
    {"width":201,"height":203,"layer":[
      {"data":{"name":"auc"},"transform":[{"filter":"datum.gene==='Olig2'"}],"mark":{"type":"rule","color":"#c8c8c8","strokeWidth":0.9},"encoding":{"x":{"datum":-0.04,"type":"quantitative","scale":{"domain":[-0.04,1.04],"nice":false,"zero":false},"axis":{"title":"1 − Specificity","values":[0,0.2,0.4,0.6,0.8,1],"format":".1f"}},"y":{"datum":-0.04,"type":"quantitative","scale":{"domain":[-0.04,1.04],"nice":false,"zero":false},"axis":{"title":"Sensitivity","values":[0,0.2,0.4,0.6,0.8,1],"format":".1f"}},"x2":{"datum":1.04},"y2":{"datum":1.04}}},
      {"data":{"name":"roc"},"transform":[{"filter":"datum.gene==='Olig2'"}],"mark":{"type":"line","color":"#E84C3D","strokeWidth":1.6},"encoding":{"x":{"field":"fpr","type":"quantitative"},"y":{"field":"tpr","type":"quantitative"},"order":{"field":"ord","type":"quantitative"}}},
      {"data":{"name":"auc"},"transform":[{"filter":"datum.gene==='Olig2'"}],"mark":{"type":"text","color":"#E84C3D","fontSize":13,"baseline":"middle"},"encoding":{"x":{"datum":0.63,"type":"quantitative"},"y":{"datum":0.52,"type":"quantitative"},"text":{"field":"auc"}}},
      {"data":{"name":"auc"},"transform":[{"filter":"datum.gene==='Olig2'"}],"mark":{"type":"text","color":"#E84C3D","fontSize":10.5,"baseline":"middle"},"encoding":{"x":{"datum":0.645,"type":"quantitative"},"y":{"datum":0.435,"type":"quantitative"},"text":{"field":"ci"}}},
      {"data":{"name":"auc"},"transform":[{"filter":"datum.gene==='Olig2'"}],"mark":{"type":"text","color":"#000","fontSize":16,"fontWeight":"bold","baseline":"alphabetic","dy":-3.5},"encoding":{"x":{"datum":0.546,"type":"quantitative"},"y":{"datum":1.04,"type":"quantitative"},"text":{"field":"gene"}}},
      {"data":{"name":"auc"},"transform":[{"filter":"datum.gene==='Olig2'"}],"mark":{"type":"text","color":"#000","fontSize":25,"baseline":"middle"},"encoding":{"x":{"datum":-0.185,"type":"quantitative"},"y":{"datum":1.104,"type":"quantitative"},"text":{"field":"letter"}}}
    ]},
    {
      "width": 201,
      "height": 290,
      "view": {"stroke": null},
      "layer": [
        {"data":{"name":"nomo_lines"},"mark":{"type":"rule","color":"#222","strokeWidth":1},"encoding":{"x":{"field":"x1","type":"quantitative","scale":{"domain":[0,100],"range":[181,706],"nice":false,"zero":false},"axis":null},"x2":{"field":"x2"},"y":{"field":"row","type":"quantitative","scale":{"domain":[-1.031,12.354],"reverse":true,"nice":false,"zero":false},"axis":null}}},
        {"data":{"name":"scale_ticks"},"transform":[{"filter":"datum.m===1"}],"mark":{"type":"tick","orient":"vertical","size":5,"thickness":1,"color":"#222","yOffset":-2.5},"encoding":{"x":{"field":"pts","type":"quantitative","axis":null},"y":{"datum":1,"type":"quantitative","axis":null}}},
        {"data":{"name":"scale_ticks"},"transform":[{"filter":"datum.m===0"}],"mark":{"type":"tick","orient":"vertical","size":3,"thickness":1,"color":"#222","yOffset":-1.5},"encoding":{"x":{"field":"pts","type":"quantitative","axis":null},"y":{"datum":1,"type":"quantitative","axis":null}}},
        {"data":{"name":"scale_ticks"},"transform":[{"filter":"datum.m===1"}],"mark":{"type":"tick","orient":"vertical","size":5,"thickness":1,"color":"#222","yOffset":2.5},"encoding":{"x":{"field":"pts","type":"quantitative","axis":null},"y":{"datum":12,"type":"quantitative","axis":null}}},
        {"data":{"name":"scale_ticks"},"transform":[{"filter":"datum.m===0"}],"mark":{"type":"tick","orient":"vertical","size":3,"thickness":1,"color":"#222","yOffset":1.5},"encoding":{"x":{"field":"pts","type":"quantitative","axis":null},"y":{"datum":12,"type":"quantitative","axis":null}}},
        {"data":{"name":"var_ticks"},"transform":[{"filter":"datum.d===0"}],"mark":{"type":"tick","orient":"vertical","size":4,"thickness":1,"color":"#222","yOffset":2},"encoding":{"x":{"field":"pts","type":"quantitative","axis":null},"y":{"field":"row","type":"quantitative","axis":null}}},
        {"data":{"name":"var_ticks"},"transform":[{"filter":"datum.d===1"}],"mark":{"type":"tick","orient":"vertical","size":3,"thickness":0.8,"color":"#222","yOffset":1.5},"encoding":{"x":{"field":"pts","type":"quantitative","axis":null},"y":{"field":"row","type":"quantitative","axis":null}}},
        {"data":{"name":"scale_labels"},"mark":{"type":"text","fontSize":9.5,"color":"#111","baseline":"middle","dy":-12},"encoding":{"x":{"field":"pts","type":"quantitative","axis":null},"y":{"datum":1,"type":"quantitative","axis":null},"text":{"field":"p"}}},
        {"data":{"name":"scale_labels"},"mark":{"type":"text","fontSize":9.5,"color":"#111","baseline":"middle","dy":12},"encoding":{"x":{"field":"pts","type":"quantitative","axis":null},"y":{"datum":12,"type":"quantitative","axis":null},"text":{"field":"t"}}},
        {"data":{"name":"var_labels"},"mark":{"type":"text","fontSize":9.5,"color":"#111","baseline":"middle","dy":12},"encoding":{"x":{"field":"pts","type":"quantitative","axis":null},"y":{"field":"row","type":"quantitative","axis":null},"text":{"field":"label"}}},
        {"data":{"name":"nomo_names"},"transform":[{"filter":"indexof(['Chn2','Olig2','Isl1'], datum.name) >= 0"}],"mark":{"type":"text","fontSize":16.5,"color":"#111","align":"left","baseline":"middle","dy":-3},"encoding":{"x":{"datum":-34.86,"type":"quantitative","axis":null},"y":{"field":"row","type":"quantitative","axis":null},"text":{"field":"name"}}},
        {"data":{"name":"nomo_names"},"transform":[{"filter":"indexof(['Points','Ugt8a','Cacnb2','Timp3','Fkbp5','Zbtb16','Tsc22d3'], datum.name) >= 0"}],"mark":{"type":"text","fontSize":14.5,"color":"#111","align":"left","baseline":"middle","dy":-3},"encoding":{"x":{"datum":-34.86,"type":"quantitative","axis":null},"y":{"field":"row","type":"quantitative","axis":null},"text":{"field":"name"}}},
        {"data":{"name":"nomo_names"},"transform":[{"filter":"datum.name==='Slc2a1'"}],"mark":{"type":"text","fontSize":13.5,"color":"#111","align":"left","baseline":"middle","dy":-3},"encoding":{"x":{"datum":-34.86,"type":"quantitative","axis":null},"y":{"field":"row","type":"quantitative","axis":null},"text":{"field":"name"}}},
        {"data":{"name":"nomo_names"},"transform":[{"filter":"datum.row >= 12"}],"mark":{"type":"text","fontSize":12.5,"color":"#111","align":"left","baseline":"middle","dy":-2},"encoding":{"x":{"datum":-34.86,"type":"quantitative","axis":null},"y":{"field":"row","type":"quantitative","axis":null},"text":{"field":"name"}}},
        {"data":{"name":"nomo_pt"},"mark":{"type":"point","shape":"square","filled":true,"color":"#000","size":22,"opacity":1},"encoding":{"x":{"field":"pts","type":"quantitative","axis":null},"y":{"field":"row","type":"quantitative","axis":null}}},
        {"data":{"values":[{}]},"mark":{"type":"text","fontSize":24,"color":"#000","baseline":"middle"},"encoding":{"x":{"datum":-39.7,"type":"quantitative","axis":null},"y":{"datum":-1.19,"type":"quantitative","axis":null},"text":{"value":"K"}}}
      ]
    },
    {
      "width": 201,
      "height": 290,
      "view": {"stroke": null},
      "layer": [
        {"data":{"values":[{}]},"mark":{"type":"rect","filled":false,"stroke":"#555","strokeWidth":1},"encoding":{"x":{"datum":-0.04,"type":"quantitative","scale":{"domain":[-0.04,1.04],"range":[603,935],"nice":false,"zero":false},"axis":{"title":"Predicted probability","values":[0,0.2,0.4,0.6,0.8,1],"format":".1f","tickSize":7,"labelFontSize":12,"labelPadding":8.8,"titleFontSize":15,"titlePadding":12.7,"titleX":787}},"x2":{"datum":1.04},"y":{"datum":-0.04,"type":"quantitative","scale":{"domain":[-0.04,1.04],"nice":false,"zero":false},"axis":{"title":"Actual probability","values":[0,0.2,0.4,0.6,0.8,1],"format":".1f","tickSize":7,"labelFontSize":12,"labelPadding":7,"titleFontSize":15,"titlePadding":11.3,"offset":-603,"titleY":134.5}},"y2":{"datum":1.04}}},
        {"data":{"values":[{}]},"mark":{"type":"rule","color":"#555","strokeDash":[4,3],"strokeWidth":1},"encoding":{"x":{"datum":-0.04,"type":"quantitative"},"y":{"datum":-0.04,"type":"quantitative"},"x2":{"datum":1.04},"y2":{"datum":1.04}}},
        {"data":{"name":"calib"},"transform":[{"filter":"datum.series==='Apparent'"}],"mark":{"type":"line","color":"#777","strokeDash":[1,2],"strokeWidth":1},"encoding":{"x":{"field":"p","type":"quantitative"},"y":{"field":"a","type":"quantitative"}}},
        {"data":{"name":"calib"},"transform":[{"filter":"datum.series==='Bias-corrected'"}],"mark":{"type":"line","color":"#222","strokeWidth":1.2},"encoding":{"x":{"field":"p","type":"quantitative"},"y":{"field":"a","type":"quantitative"}}},
        {"data":{"name":"rug"},"mark":{"type":"tick","orient":"vertical","size":7,"thickness":1,"color":"#888","yOffset":3.5},"encoding":{"x":{"field":"p","type":"quantitative"},"y":{"datum":1.04,"type":"quantitative"}}},
        {"data":{"values":[{}]},"mark":{"type":"rule","color":"#777","strokeDash":[1,2],"strokeWidth":1},"encoding":{"x":{"datum":0.584,"type":"quantitative"},"x2":{"datum":0.649},"y":{"datum":0.271,"type":"quantitative"}}},
        {"data":{"values":[{}]},"mark":{"type":"rule","color":"#222","strokeWidth":1.2},"encoding":{"x":{"datum":0.584,"type":"quantitative"},"x2":{"datum":0.649},"y":{"datum":0.216,"type":"quantitative"}}},
        {"data":{"values":[{}]},"mark":{"type":"rule","color":"#555","strokeDash":[4,3],"strokeWidth":1},"encoding":{"x":{"datum":0.584,"type":"quantitative"},"x2":{"datum":0.649},"y":{"datum":0.166,"type":"quantitative"}}},
        {"data":{"values":[{}]},"mark":{"type":"text","align":"left","baseline":"middle","fontSize":14.5,"color":"#222"},"encoding":{"x":{"datum":0.688,"type":"quantitative"},"y":{"datum":0.275,"type":"quantitative"},"text":{"value":"Apparent"}}},
        {"data":{"values":[{}]},"mark":{"type":"text","align":"left","baseline":"middle","fontSize":14.5,"color":"#222"},"encoding":{"x":{"datum":0.688,"type":"quantitative"},"y":{"datum":0.208,"type":"quantitative"},"text":{"value":"Bias−corrected"}}},
        {"data":{"values":[{}]},"mark":{"type":"text","align":"left","baseline":"middle","fontSize":14.5,"color":"#222"},"encoding":{"x":{"datum":0.688,"type":"quantitative"},"y":{"datum":0.16,"type":"quantitative"},"text":{"value":"Ideal"}}},
        {"data":{"values":[{}]},"mark":{"type":"text","fontSize":24,"color":"#000","baseline":"middle"},"encoding":{"x":{"datum":-0.292,"type":"quantitative"},"y":{"datum":1.045,"type":"quantitative"},"text":{"value":"L"}}},
        {"data":{"values":[{}]},"mark":{"type":"text","font":"Liberation Serif","fontWeight":"bold","fontSize":150,"angle":315,"align":"center","baseline":"middle","color":"#9a9a9a"},"encoding":{"x":{"datum":-0.8075,"type":"quantitative"},"y":{"datum":0.627,"type":"quantitative"},"text":{"value":"RETRACTED ARTICLE"}}}
      ]
    }
  ]
}
